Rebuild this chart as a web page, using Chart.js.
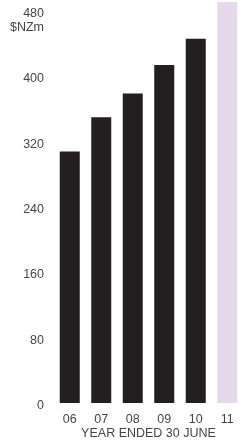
<!DOCTYPE html>
<html>
<head>
<meta charset="utf-8">
<script src="https://cdn.jsdelivr.net/npm/chart.js@4/dist/chart.umd.min.js"></script>
<style>
  html, body { margin: 0; padding: 0; background: #ffffff; }
  #wrap { width: 243px; height: 443px; }
</style>
</head>
<body>
<div id="wrap"><canvas id="revenueChart" width="243" height="443"></canvas></div>
<script>
// Revenue by year ended 30 June ($NZm)
const years = ['06', '07', '08', '09', '10', '11'];
const revenue = [308, 350, 379, 414, 446, null];
const forecastBand = [null, null, null, null, null, 491];
const yTicks = [0, 80, 160, 240, 320, 400, 480];
const unitLabel = '$NZm';
const axisTitle = 'YEAR ENDED 30 JUNE';

const textColor = '#454545';
const fontFamily = '"Liberation Sans", Arial, sans-serif';

// draws the unit caption under the top tick label
const unitPlugin = {
  id: 'unitLabel',
  afterDraw(chart) {
    const ctx = chart.ctx;
    const yScale = chart.scales.y;
    ctx.save();
    ctx.font = '12.5px ' + fontFamily;
    ctx.fillStyle = textColor;
    ctx.textAlign = 'right';
    ctx.textBaseline = 'middle';
    ctx.fillText(unitLabel, chart.chartArea.left - 10, yScale.getPixelForValue(yTicks[yTicks.length - 1]) + 16.5);
    ctx.restore();
  }
};

const ctx = document.getElementById('revenueChart').getContext('2d');
new Chart(ctx, {
  type: 'bar',
  data: {
    labels: years,
    datasets: [
      {
        label: 'Revenue',
        data: revenue,
        backgroundColor: '#231f20',
        barPercentage: 0.635,
        categoryPercentage: 1,
        grouped: false
      },
      {
        label: 'Forecast',
        data: forecastBand,
        backgroundColor: '#e6d9eb',
        barPercentage: 0.635,
        categoryPercentage: 1,
        grouped: false
      }
    ]
  },
  options: {
    responsive: false,
    animation: false,
    layout: { padding: { top: 2, left: 0, right: 0, bottom: 0 } },
    plugins: {
      legend: { display: false },
      tooltip: { enabled: false }
    },
    scales: {
      x: {
        grid: { display: false, drawTicks: false },
        border: { display: false },
        ticks: {
          color: textColor,
          font: { family: fontFamily, size: 12.5 },
          padding: 9.5,
          maxRotation: 0
        },
        title: {
          display: true,
          text: axisTitle,
          color: textColor,
          font: { family: fontFamily, size: 12.5 },
          padding: { top: 0, bottom: 2 }
        },
        afterFit(scale) {
          scale.height = 40;
          scale.paddingLeft = 0;
          scale.paddingRight = 0;
        }
      },
      y: {
        min: 0,
        max: 491,
        grid: { display: false, drawTicks: false },
        border: { display: false },
        ticks: {
          color: textColor,
          font: { family: fontFamily, size: 12.5 },
          padding: 10,
          labelOffset: 2.5
        },
        afterBuildTicks(scale) {
          scale.ticks = yTicks.map(v => ({ value: v }));
        },
        afterFit(scale) {
          scale.width = 54;
          scale.paddingTop = 0;
          scale.paddingBottom = 0;
        }
      }
    }
  },
  plugins: [unitPlugin]
});
</script>
</body>
</html>
